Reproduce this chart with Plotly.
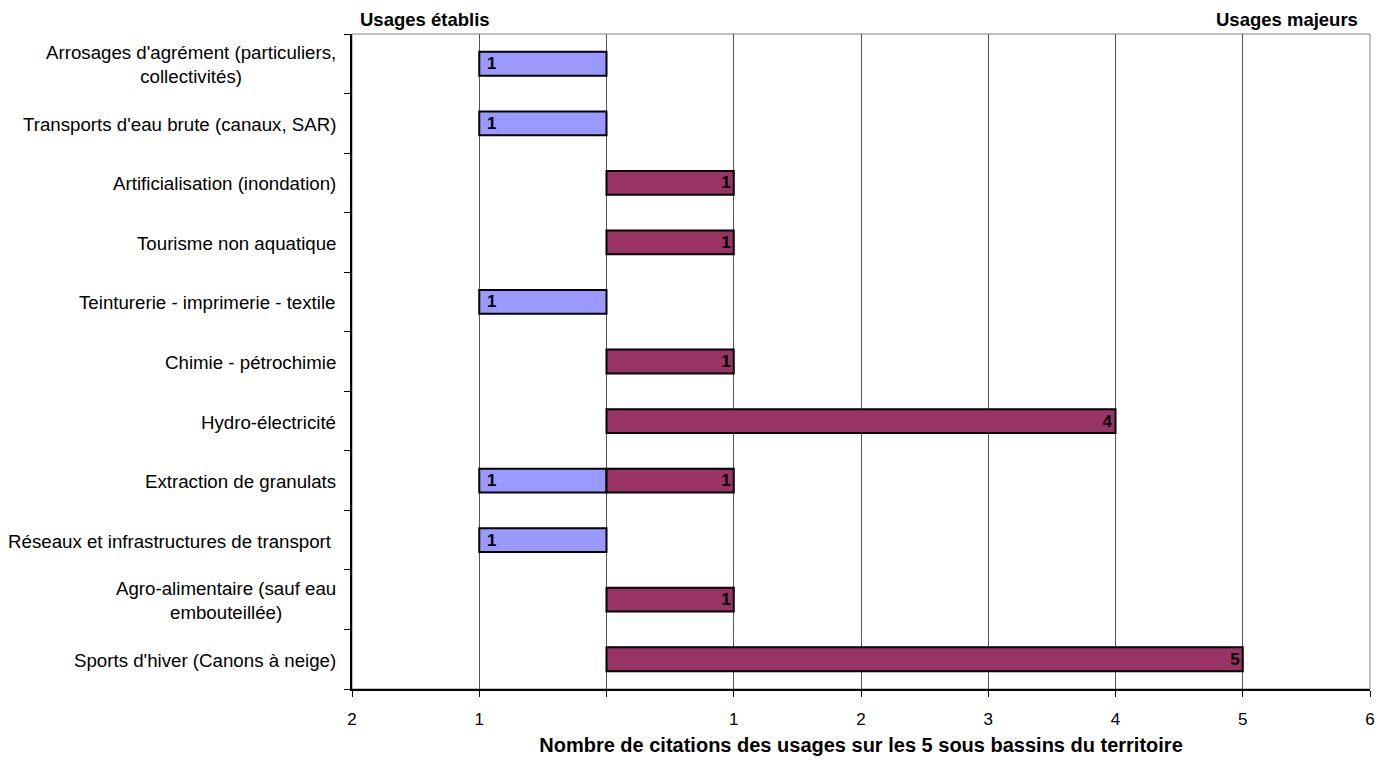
import plotly.graph_objects as go

# Usage categories, listed from top to bottom
categories = [
    "Arrosages d'agrément (particuliers,<br>collectivités)",
    "Transports d'eau brute (canaux, SAR)",
    "Artificialisation (inondation)",
    "Tourisme non aquatique",
    "Teinturerie - imprimerie - textile",
    "Chimie - pétrochimie",
    "Hydro-électricité",
    "Extraction de granulats",
    "Réseaux et infrastructures de transport ",
    "Agro-alimentaire (sauf eau<br>embouteillée)",
    "Sports d'hiver (Canons à neige)",
]

# Number of citations over the 5 sub-basins (None = not cited)
usages_etablis = [1, 1, None, None, 1, None, None, 1, 1, None, None]
usages_majeurs = [None, None, 1, 1, None, 1, 4, 1, None, 1, 5]

x_tickvals = [-2, -1, 0, 1, 2, 3, 4, 5, 6]
x_ticktext = ["2", "1", "", "1", "2", "3", "4", "5", "6"]

FONT = "Liberation Sans, Arial, sans-serif"
NBSP = "\u00a0"
y_ids = list(range(len(categories)))

fig = go.Figure()

# Established usages drawn to the left of zero
fig.add_trace(go.Bar(
    y=y_ids,
    x=[-v if v is not None else None for v in usages_etablis],
    orientation="h",
    width=0.4,
    marker=dict(color="#9999FF", line=dict(color="#000000", width=2)),
    text=[NBSP + str(v) if v is not None else "" for v in usages_etablis],
    textposition="inside",
    insidetextanchor="end",
    constraintext="none",
    textangle=0,
    textfont=dict(family=FONT, size=17, color="#000000", weight="bold"),
    hoverinfo="skip",
    name="Usages établis",
))

# Major usages drawn to the right of zero
fig.add_trace(go.Bar(
    y=y_ids,
    x=usages_majeurs,
    orientation="h",
    width=0.4,
    marker=dict(color="#993366", line=dict(color="#000000", width=2)),
    text=[str(v) if v is not None else "" for v in usages_majeurs],
    textposition="inside",
    insidetextanchor="end",
    constraintext="none",
    textangle=0,
    textfont=dict(family=FONT, size=17, color="#000000", weight="bold"),
    hoverinfo="skip",
    name="Usages majeurs",
))

# Category labels: right-aligned block, lines centred (wrapped-label style)
annotations = []
for i, cat in enumerate(categories):
    annotations.append(dict(
        x=0, xref="paper", y=i, yref="y",
        xanchor="right", yanchor="middle", xshift=-14, yshift=-1,
        text=cat, showarrow=False, align="center",
        font=dict(family=FONT, size=18.7, color="#000000"),
    ))

annotations += [
    dict(x=0, xref="paper", y=1, yref="paper", xanchor="left", yanchor="bottom",
         xshift=6, yshift=2, text="<b>Usages établis</b>", showarrow=False,
         font=dict(family=FONT, size=18.5, color="#000000")),
    dict(x=1, xref="paper", y=1, yref="paper", xanchor="right", yanchor="bottom",
         xshift=-10, yshift=2, text="<b>Usages majeurs</b>", showarrow=False,
         font=dict(family=FONT, size=18.5, color="#000000")),
]

fig.update_layout(
    width=1390, height=760,
    margin=dict(l=352, r=20, t=34, b=71),
    paper_bgcolor="white", plot_bgcolor="white",
    barmode="relative",
    showlegend=False,
    font=dict(family=FONT, size=17, color="#000000"),
    annotations=annotations,
    shapes=[dict(type="rect", xref="paper", yref="paper", x0=0, y0=0, x1=1, y1=1,
                 line=dict(color="#808080", width=1), layer="below")],
)

fig.update_xaxes(
    range=[-2, 6],
    automargin=False,
    tickvals=x_tickvals, ticktext=x_ticktext,
    showgrid=True, gridcolor="#555555", gridwidth=1,
    zeroline=False,
    showline=True, linecolor="#000000", linewidth=1.5,
    ticks="outside", ticklen=6, tickcolor="#000000",
    ticklabelstandoff=8,
    tickfont=dict(family=FONT, size=17, color="#000000"),
    title=dict(text="<b>Nombre de citations des usages sur les 5 sous bassins du territoire</b>",
               font=dict(family=FONT, size=20, color="#000000"), standoff=10),
    layer="below traces",
)

fig.update_yaxes(
    type="category",
    automargin=False,
    range=[len(categories) - 0.5, -0.5],
    tickvals=y_ids,
    showticklabels=False,
    tickson="boundaries",
    ticks="outside", ticklen=6, tickcolor="#000000",
    showgrid=False, zeroline=False,
    showline=True, linecolor="#000000", linewidth=1.5,
)

fig.write_html("out.html")
